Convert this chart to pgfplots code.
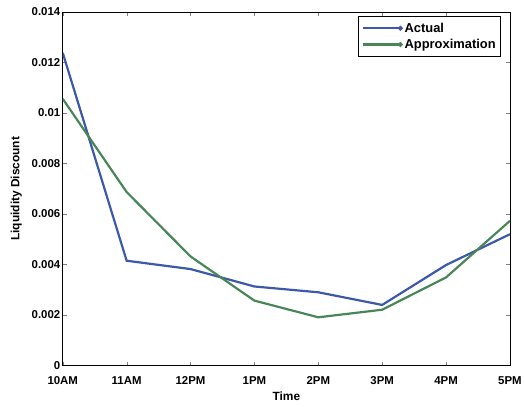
\documentclass[border=0pt]{standalone}
\usepackage{pgfplots}
\pgfplotsset{compat=1.18}
\usepackage{fontspec}
\setmainfont{Liberation Sans}
\definecolor{mblue}{RGB}{60,88,168}
\definecolor{mgreen}{RGB}{72,134,88}
\begin{document}
\begin{tikzpicture}
\begin{axis}[
  scale only axis, width=449bp, height=355bp,
  at={(0,0)}, anchor=south west,
  xmin=0, xmax=7, ymin=0, ymax=0.014,
  xtick={0,...,7},
  xticklabels={10AM,11AM,12PM,1PM,2PM,3PM,4PM,5PM},
  ytick={0,0.002,0.004,0.006,0.008,0.01,0.012,0.014},
  yticklabels={0,0.002,0.004,0.006,0.008,0.01,0.012,0.014},
  scaled y ticks=false,
  tick align=inside, tick pos=both,
  major tick length=4bp,
  tick label style={font=\bfseries\fontsize{11.5}{12}\selectfont},
  xticklabel style={yshift=-8bp},
  yticklabel style={xshift=1bp},
  xlabel={Time}, ylabel={Liquidity Discount},
  label style={font=\bfseries\fontsize{12}{13}\selectfont},
  xlabel style={yshift=0bp},
  ylabel style={yshift=3bp},
  /pgf/number format/assume math mode=true,
  axis line style={line width=0.9pt},
  legend style={at={(0.98,0.9887)}, anchor=north east, font=\bfseries\fontsize{13}{14}\selectfont, draw=black, line width=0.8pt, inner xsep=3bp, inner ysep=4.5bp, row sep=1.5bp},
  legend cell align=left,
  legend image code/.code={\draw[#1] (0bp,0bp) -- (38bp,0bp); \fill[#1] (38bp,0bp) circle (1.2bp);},
]
\addplot[mblue, line width=2.2pt] coordinates {(0,0.01238) (1,0.00415) (2,0.00382) (3,0.00313) (4,0.0029) (5,0.0024) (6,0.00398) (7,0.0052)};
\addlegendentry{Actual}
\addplot[mgreen, line width=2.2pt] coordinates {(0,0.01056) (1,0.00687) (2,0.00432) (3,0.00257) (4,0.00191) (5,0.00221) (6,0.00349) (7,0.00573)};
\addlegendentry{Approximation}
\end{axis}
\path[use as bounding box] (-63bp,-41bp) rectangle (462bp,367bp);
\end{tikzpicture}
\end{document}
